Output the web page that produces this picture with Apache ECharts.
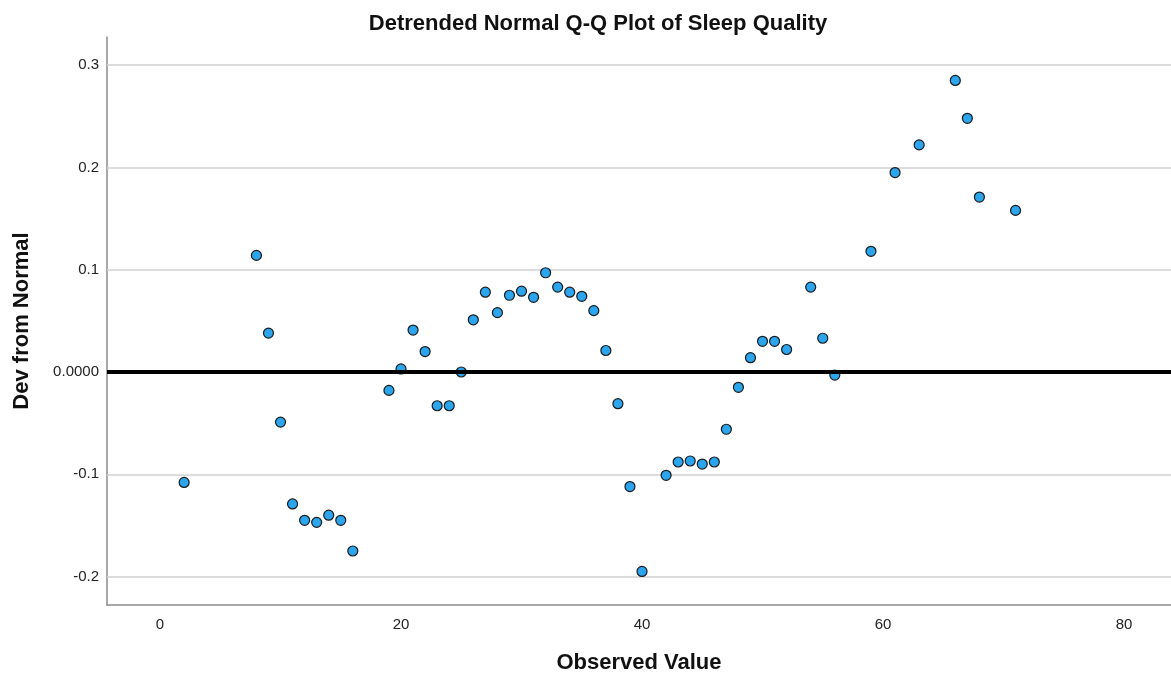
<!DOCTYPE html>
<html>
<head>
<meta charset="utf-8">
<title>Detrended Normal Q-Q Plot of Sleep Quality</title>
<script src="https://cdn.jsdelivr.net/npm/echarts@6/dist/echarts.min.js"></script>
<style>
    html, body { margin: 0; padding: 0; background: #fff; }
    #chart { width: 1171px; height: 677px; }
</style>
</head>
<body>
<div id="chart"></div>
<script type="text/javascript">
    // observed values and their deviation from normal
    var observed = [2, 8, 9, 10, 11, 12, 13, 14, 15, 16,
                    19, 20, 21, 22, 23, 24, 25, 26, 27, 28,
                    29, 30, 31, 32, 33, 34, 35, 36, 37, 38,
                    39, 40, 42, 43, 44, 45, 46, 47, 48, 49,
                    50, 51, 52, 54, 55, 56, 59, 61, 63, 66,
                    67, 68, 71];
    var deviation = [-0.108, 0.114, 0.038, -0.049, -0.129, -0.145, -0.147, -0.140, -0.145, -0.175,
                     -0.018, 0.003, 0.041, 0.020, -0.033, -0.033, 0.000, 0.051, 0.078, 0.058,
                     0.075, 0.079, 0.073, 0.097, 0.083, 0.078, 0.074, 0.060, 0.021, -0.031,
                     -0.112, -0.195, -0.101, -0.088, -0.087, -0.090, -0.088, -0.056, -0.015, 0.014,
                     0.030, 0.030, 0.022, 0.083, 0.033, -0.003, 0.118, 0.195, 0.222, 0.285,
                     0.248, 0.171, 0.158];

    var xTicks = [0, 20, 40, 60, 80];
    var yTicks = [-0.2, -0.1, 0, 0.1, 0.2, 0.3];

    var points = [];
    for (var i = 0; i < observed.length; i++) {
        points.push([observed[i], deviation[i]]);
    }

    var gridLines = [];
    for (var j = 0; j < yTicks.length; j++) {
        if (yTicks[j] !== 0) gridLines.push({yAxis: yTicks[j]});
    }

    var myChart = echarts.init(document.getElementById('chart'));

    var option = {
        animation: false,
        backgroundColor: '#fff',
        textStyle: {fontFamily: 'Arial, "Liberation Sans", sans-serif'},
        title: {
            text: 'Detrended Normal Q-Q Plot of Sleep Quality',
            left: 593,
            textAlign: 'center',
            top: 8,
            textStyle: {fontSize: 22, fontWeight: 'bold', color: '#111'}
        },
        grid: {left: 107, right: 0, top: 37, bottom: 72, outerBoundsMode: 'none'},
        xAxis: {
            type: 'value',
            min: -4.4,
            max: 83.9,
            name: 'Observed Value',
            nameLocation: 'middle',
            nameGap: 47,
            nameTextStyle: {fontSize: 22, fontWeight: 'bold', color: '#111'},
            axisLine: {show: true, onZero: false, lineStyle: {color: '#8c8c8c', width: 1.5}},
            axisTick: {show: false},
            splitLine: {show: false},
            axisLabel: {
                customValues: xTicks,
                margin: 12,
                fontSize: 15,
                color: '#222'
            }
        },
        yAxis: {
            type: 'value',
            min: -0.2278,
            max: 0.3275,
            name: 'Dev from Normal',
            nameLocation: 'middle',
            nameGap: 74,
            nameTextStyle: {fontSize: 22, fontWeight: 'bold', color: '#111'},
            axisLine: {show: true, onZero: false, lineStyle: {color: '#8c8c8c', width: 1.5}},
            axisTick: {show: false},
            splitLine: {show: false},
            axisLabel: {
                customValues: yTicks,
                margin: 8,
                fontSize: 15,
                color: '#222',
                formatter: function (v) {
                    return Math.abs(v) < 1e-9 ? '0.0000' : v.toFixed(1);
                }
            }
        },
        series: [
            {
                // light grid lines, kept behind the points
                type: 'scatter',
                data: [],
                z: 1,
                silent: true,
                markLine: {
                    z: 1,
                    silent: true,
                    symbol: 'none',
                    label: {show: false},
                    lineStyle: {color: '#d2d2d2', width: 1.5, type: 'solid'},
                    data: gridLines
                }
            },
            {
                type: 'scatter',
                z: 3,
                data: points,
                symbol: 'circle',
                symbolSize: 10,
                itemStyle: {color: '#2aa5ee', borderColor: '#1a1a1a', borderWidth: 1.2, opacity: 1}
            },
            {
                // zero reference line, drawn on top
                type: 'scatter',
                data: [],
                z: 5,
                silent: true,
                markLine: {
                    z: 5,
                    silent: true,
                    symbol: 'none',
                    label: {show: false},
                    lineStyle: {color: '#000', width: 4, type: 'solid'},
                    data: [{yAxis: 0}]
                }
            }
        ]
    };
    myChart.setOption(option);
</script>
</body>
</html>
